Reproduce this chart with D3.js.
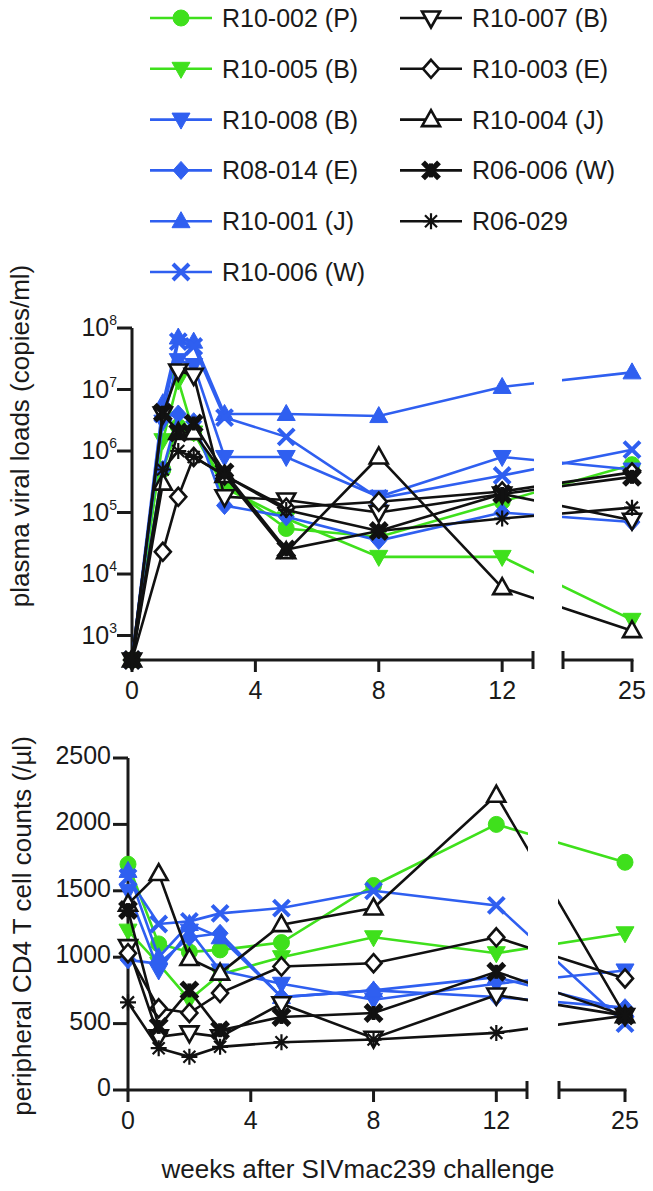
<!DOCTYPE html>
<html><head><meta charset="utf-8">
<script src="https://cdn.jsdelivr.net/npm/d3@7"></script>
<style>body{margin:0;background:#fff}svg{display:block}text{font-family:"Liberation Sans",Arial,sans-serif;fill:#1a1a1a}</style>
</head><body><svg id="c" width="653" height="1191"></svg>
<script>
// ---- data ----
const seriesNames = ["R10-002 (P)","R10-005 (B)","R10-008 (B)","R08-014 (E)","R10-001 (J)","R10-006 (W)","R10-007 (B)","R10-003 (E)","R10-004 (J)","R06-006 (W)","R06-029"];
const seriesColors = ["green","green","blue","blue","blue","blue","black","black","black","black","black"];
const seriesSymbols = ["circle","invtri","invtri","diamond","tri","x","invtri","diamond","tri","boldx","asterisk"];
const seriesOpen = [false,false,false,false,false,false,true,true,true,false,false];
const vlWeeks = [0,1,1.5,2,3,5,8,12,25];
const vlR10_002 = [400,5e5,2.5e6,2e6,3e5,5.5e4,4e4,1.5e5,6e5];
const vlR10_005 = [400,1.5e6,1.4e7,2e6,2.5e5,8e4,1.9e4,1.9e4,1.8e3];
const vlR10_008 = [400,3e6,3e7,2.5e7,8e5,8e5,1.8e5,8e5,5e5];
const vlR08_014 = [400,5e5,4e6,3e6,1.3e5,8.5e4,3.5e4,1e5,7e4];
const vlR10_001 = [400,6e6,7e7,6e7,4e6,4e6,3.7e6,1.1e7,1.9e7];
const vlR10_006 = [400,4e6,6e7,5e7,3.5e6,1.7e6,1.7e5,4e5,1.05e6];
const vlR10_007 = [400,4e6,2e7,1.7e7,1.8e5,1.6e5,1e5,2e5,7.5e4];
const vlR10_003 = [400,2.3e4,1.8e5,8e5,4e5,1.2e5,1.5e5,2.2e5,4.5e5];
const vlR10_004 = [400,3e5,2e6,2e6,4e5,2.3e4,8e5,6e3,1.2e3];
const vlR06_006 = [400,4.2e6,2e6,2.8e6,4.5e5,2.5e4,5e4,2e5,3.8e5];
const vlR06_029 = [400,5e5,1e6,8e5,4e5,1.1e5,5e4,8e4,1.2e5];
const cd4Weeks = [0,1,2,3,5,8,12,25];
const cdR10_002 = [1700,1100,1040,1055,1110,1540,2000,1715];
const cdR10_005 = [1200,950,680,870,1000,1150,1030,1180];
const cdR10_008 = [1500,900,1200,900,800,680,800,900];
const cdR08_014 = [980,950,1150,1180,700,750,700,620];
const cdR10_001 = [1650,1000,1250,1150,700,750,850,600];
const cdR10_006 = [1600,1250,1270,1330,1370,1500,1390,500];
const cdR10_007 = [1080,400,430,400,650,390,715,560];
const cdR10_003 = [1030,615,580,730,930,955,1150,840];
const cdR10_004 = [1400,1630,990,880,1245,1370,2220,560];
const cdR06_006 = [1355,475,750,450,550,580,890,560];
const cdR06_029 = [660,315,250,325,360,380,430,560];
const vlData = [vlR10_002,vlR10_005,vlR10_008,vlR08_014,vlR10_001,vlR10_006,vlR10_007,vlR10_003,vlR10_004,vlR06_006,vlR06_029];
const cdData = [cdR10_002,cdR10_005,cdR10_008,cdR08_014,cdR10_001,cdR10_006,cdR10_007,cdR10_003,cdR10_004,cdR06_006,cdR06_029];
const vlTicks = [1e3,1e4,1e5,1e6,1e7,1e8];
const cdTicks = [0,500,1000,1500,2000,2500];
const xTicks = [0,4,8,12,25];

const colorMap = {green:"#3fe01c", blue:"#2f5ff0", black:"#111"};
const svg = d3.select("#c");

function symbolPath(g, type, color, open, cx, cy){
  const s = g.append("g").attr("transform",`translate(${cx},${cy})`);
  const fill = open ? "#fff" : color;
  const sw = open ? 2.6 : 1;
  if(type==="circle") s.append("circle").attr("r",8).attr("fill",fill).attr("stroke",color).attr("stroke-width",1);
  else if(type==="tri") s.append("path").attr("d","M0,-9.5L9,6.5L-9,6.5Z").attr("fill",fill).attr("stroke",color).attr("stroke-width",sw).attr("stroke-linejoin","miter");
  else if(type==="invtri") s.append("path").attr("d","M0,9.5L9,-6.5L-9,-6.5Z").attr("fill",fill).attr("stroke",color).attr("stroke-width",sw);
  else if(type==="diamond") s.append("path").attr("d","M0,-9L8,0L0,9L-8,0Z").attr("fill",fill).attr("stroke",color).attr("stroke-width",sw);
  else if(type==="x") s.append("path").attr("d","M-8,-8L8,8M-8,8L8,-8").attr("stroke",color).attr("stroke-width",4).attr("fill","none");
  else if(type==="boldx"){ s.append("path").attr("d","M-8,-8L8,8M-8,8L8,-8").attr("stroke",color).attr("stroke-width",5.5).attr("fill","none");
    s.append("path").attr("d","M0,-7L0,7").attr("stroke",color).attr("stroke-width",4);}
  else if(type==="asterisk") s.append("path").attr("d","M0,-8L0,8M-8,0L8,0M-6,-6L6,6M-6,6L6,-6").attr("stroke",color).attr("stroke-width",2.2).attr("fill","none");
}

function panel(cfg){
  const {y, weeks, data, x0, x13, gapEnd, x25, axisY, yTop, tickVals, tickFmt, idp} = cfg;
  const xa = d3.scaleLinear().domain([0,13]).range([x0,x13]);
  const xb = d3.scaleLinear().domain([25-(x25-gapEnd)/((x13-x0)/13),25]).range([gapEnd,x25]);
  const xs = w => w<=13 ? xa(w) : xb(w);
  const defs = svg.append("defs");
  const cp = defs.append("clipPath").attr("id",idp);
  cp.append("rect").attr("x",0).attr("y",0).attr("width",x13+1).attr("height",1191);
  cp.append("rect").attr("x",gapEnd-1).attr("y",0).attr("width",653).attr("height",1191);
  const g = svg.append("g");
  // axes
  const ax = g.append("g").attr("stroke","#1a1a1a").attr("stroke-width",3).attr("fill","none");
  ax.append("line").attr("x1",x0).attr("x2",x0).attr("y1",yTop).attr("y2",axisY);
  ax.append("line").attr("x1",x0-1.5).attr("x2",x13).attr("y1",axisY).attr("y2",axisY);
  ax.append("line").attr("x1",x13).attr("x2",x13).attr("y1",axisY-9).attr("y2",axisY+9);
  ax.append("line").attr("x1",gapEnd).attr("x2",x25+1.5).attr("y1",axisY).attr("y2",axisY);
  ax.append("line").attr("x1",gapEnd).attr("x2",gapEnd).attr("y1",axisY-9).attr("y2",axisY+9);
  xTicks.forEach(t=>{ const xx=xs(t); ax.append("line").attr("x1",xx).attr("x2",xx).attr("y1",axisY).attr("y2",axisY+12);
    g.append("text").attr("x",xx).attr("y",axisY+39).attr("text-anchor","middle").attr("font-size",25).text(t);});
  tickVals.forEach(t=>{ const yy=y(t); ax.append("line").attr("x1",x0-15).attr("x2",x0).attr("y1",yy).attr("y2",yy);
    tickFmt(g, x0-18, yy, t);});
  // series
  const line = d3.line().x((d,i)=>xs(weeks[i])).y(d=>y(d));
  data.forEach((vals,si)=>{
    const col = colorMap[seriesColors[si]];
    g.append("path").datum(vals).attr("d",line).attr("fill","none").attr("stroke",col).attr("stroke-width",2.6).attr("clip-path",`url(#${idp})`);
    vals.forEach((v,i)=>symbolPath(g, seriesSymbols[si], col, seriesOpen[si], xs(weeks[i]), y(v)));
  });
}

const yVL = d3.scaleLog().domain([400,1e8]).range([660,328]);
panel({y:yVL, weeks:vlWeeks, data:vlData, x0:132, x13:533, gapEnd:563, x25:632, axisY:660, yTop:328, tickVals:vlTicks, idp:"clipA",
  tickFmt:(g,x,yy,t)=>{ const e=Math.round(Math.log10(t)); const tx=g.append("text").attr("x",x+3).attr("y",yy+8).attr("text-anchor","end").attr("font-size",25);
    tx.append("tspan").text("10"); tx.append("tspan").attr("font-size",14).attr("dy",-11).text(e);}});
const yCD = d3.scaleLinear().domain([0,2500]).range([1090,758]);
panel({y:yCD, weeks:cd4Weeks, data:cdData, x0:128, x13:527, gapEnd:559, x25:625, axisY:1090, yTop:758, tickVals:cdTicks, idp:"clipB",
  tickFmt:(g,x,yy,t)=>{ g.append("text").attr("x",x+1).attr("y",yy+6).attr("text-anchor","end").attr("font-size",25).text(t);}});

// axis titles
svg.append("text").attr("transform","translate(29,436) rotate(-90)").attr("text-anchor","middle").attr("font-size",26).text("plasma viral loads (copies/ml)");
svg.append("text").attr("transform","translate(31,926) rotate(-90)").attr("text-anchor","middle").attr("font-size",26).text("peripheral CD4 T cell counts (/µl)");
svg.append("text").attr("x",358).attr("y",1178).attr("text-anchor","middle").attr("font-size",26).text("weeks after SIVmac239 challenge");

// legend
const leg = svg.append("g");
seriesNames.forEach((n,i)=>{
  const col = i<6?0:1, row = i<6?i:i-6;
  const lx = col===0?150:400, ly = 18+row*50.8;
  const c = colorMap[seriesColors[i]];
  leg.append("line").attr("x1",lx).attr("x2",lx+62).attr("y1",ly).attr("y2",ly).attr("stroke",c).attr("stroke-width",2.6);
  symbolPath(leg, seriesSymbols[i], c, seriesOpen[i], lx+31, ly);
  leg.append("text").attr("x",lx+72).attr("y",ly+9).attr("font-size",25).text(n);
});
</script></body></html>
